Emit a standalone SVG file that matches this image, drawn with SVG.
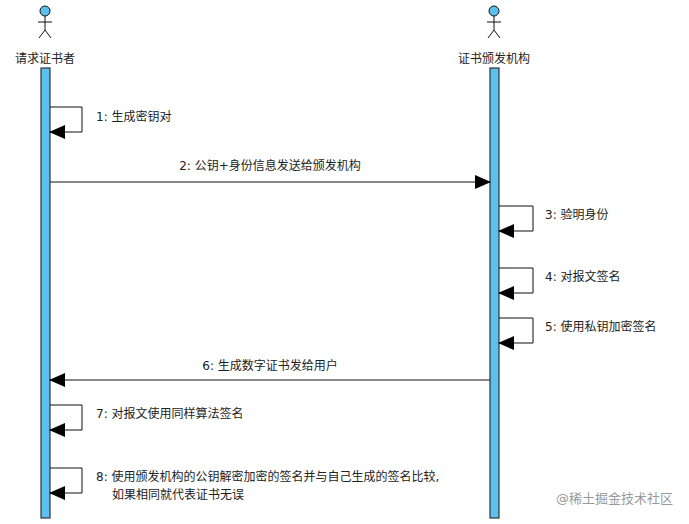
<svg xmlns="http://www.w3.org/2000/svg" width="689" height="524" viewBox="0 0 689 524">
<style>
text{font-family:"DejaVu Sans","Noto Sans CJK SC",sans-serif;font-size:12px;fill:#222}
.bar{fill:#5bc0ee;stroke:#333;stroke-width:1.2}
.ln{fill:none;stroke:#111;stroke-width:1}
.act{fill:none;stroke:#111;stroke-width:1}
</style>
<defs><marker id="a" markerWidth="16" markerHeight="14" refX="15" refY="7" orient="auto" markerUnits="userSpaceOnUse"><path d="M0,0L16,7L0,14z" fill="#000"/></marker></defs>
<rect width="689" height="524" fill="#fff"/>
<g id="actor1"><circle cx="45" cy="11" r="5" fill="#5bc0ee" stroke="#111"/><path class="act" d="M45 16V30M38 22H52M45 30L39 38M45 30L51 38"/><text x="45" y="63" text-anchor="middle">请求证书者</text><rect class="bar" x="41" y="68" width="9" height="450"/></g>
<g id="actor2"><circle cx="494" cy="11" r="5" fill="#5bc0ee" stroke="#111"/><path class="act" d="M494 16V30M487 22H501M494 30L488 38M494 30L500 38"/><text x="494" y="63" text-anchor="middle">证书颁发机构</text><rect class="bar" x="490" y="68" width="9" height="450"/></g>
<g id="connectors">
<path class="ln" marker-end="url(#a)" d="M50 107H82V132H50"/>
<path class="ln" marker-end="url(#a)" d="M50 182H490"/>
<path class="ln" marker-end="url(#a)" d="M499 206H533V231H499"/>
<path class="ln" marker-end="url(#a)" d="M499 268H533V293H499"/>
<path class="ln" marker-end="url(#a)" d="M499 318H533V343H499"/>
<path class="ln" marker-end="url(#a)" d="M490 380H50"/>
<path class="ln" marker-end="url(#a)" d="M50 405H82V430H50"/>
<path class="ln" marker-end="url(#a)" d="M50 468H82V493H50"/>
</g>
<g id="labels">
<text x="96" y="121">1: 生成密钥对</text>
<text x="270" y="170" text-anchor="middle">2: 公钥+身份信息发送给颁发机构</text>
<text x="545" y="219">3: 验明身份</text>
<text x="545" y="281">4: 对报文签名</text>
<text x="545" y="331">5: 使用私钥加密签名</text>
<text x="270" y="370" text-anchor="middle">6: 生成数字证书发给用户</text>
<text x="96" y="418">7: 对报文使用同样算法签名</text>
<text x="96" y="481">8: 使用颁发机构的公钥解密加密的签名并与自己生成的签名比较,</text>
<text x="112" y="499">如果相同就代表证书无误</text>
<text x="673" y="503" text-anchor="end" style="fill:#999;font-size:13px">@稀土掘金技术社区</text>
</g>
</svg>
